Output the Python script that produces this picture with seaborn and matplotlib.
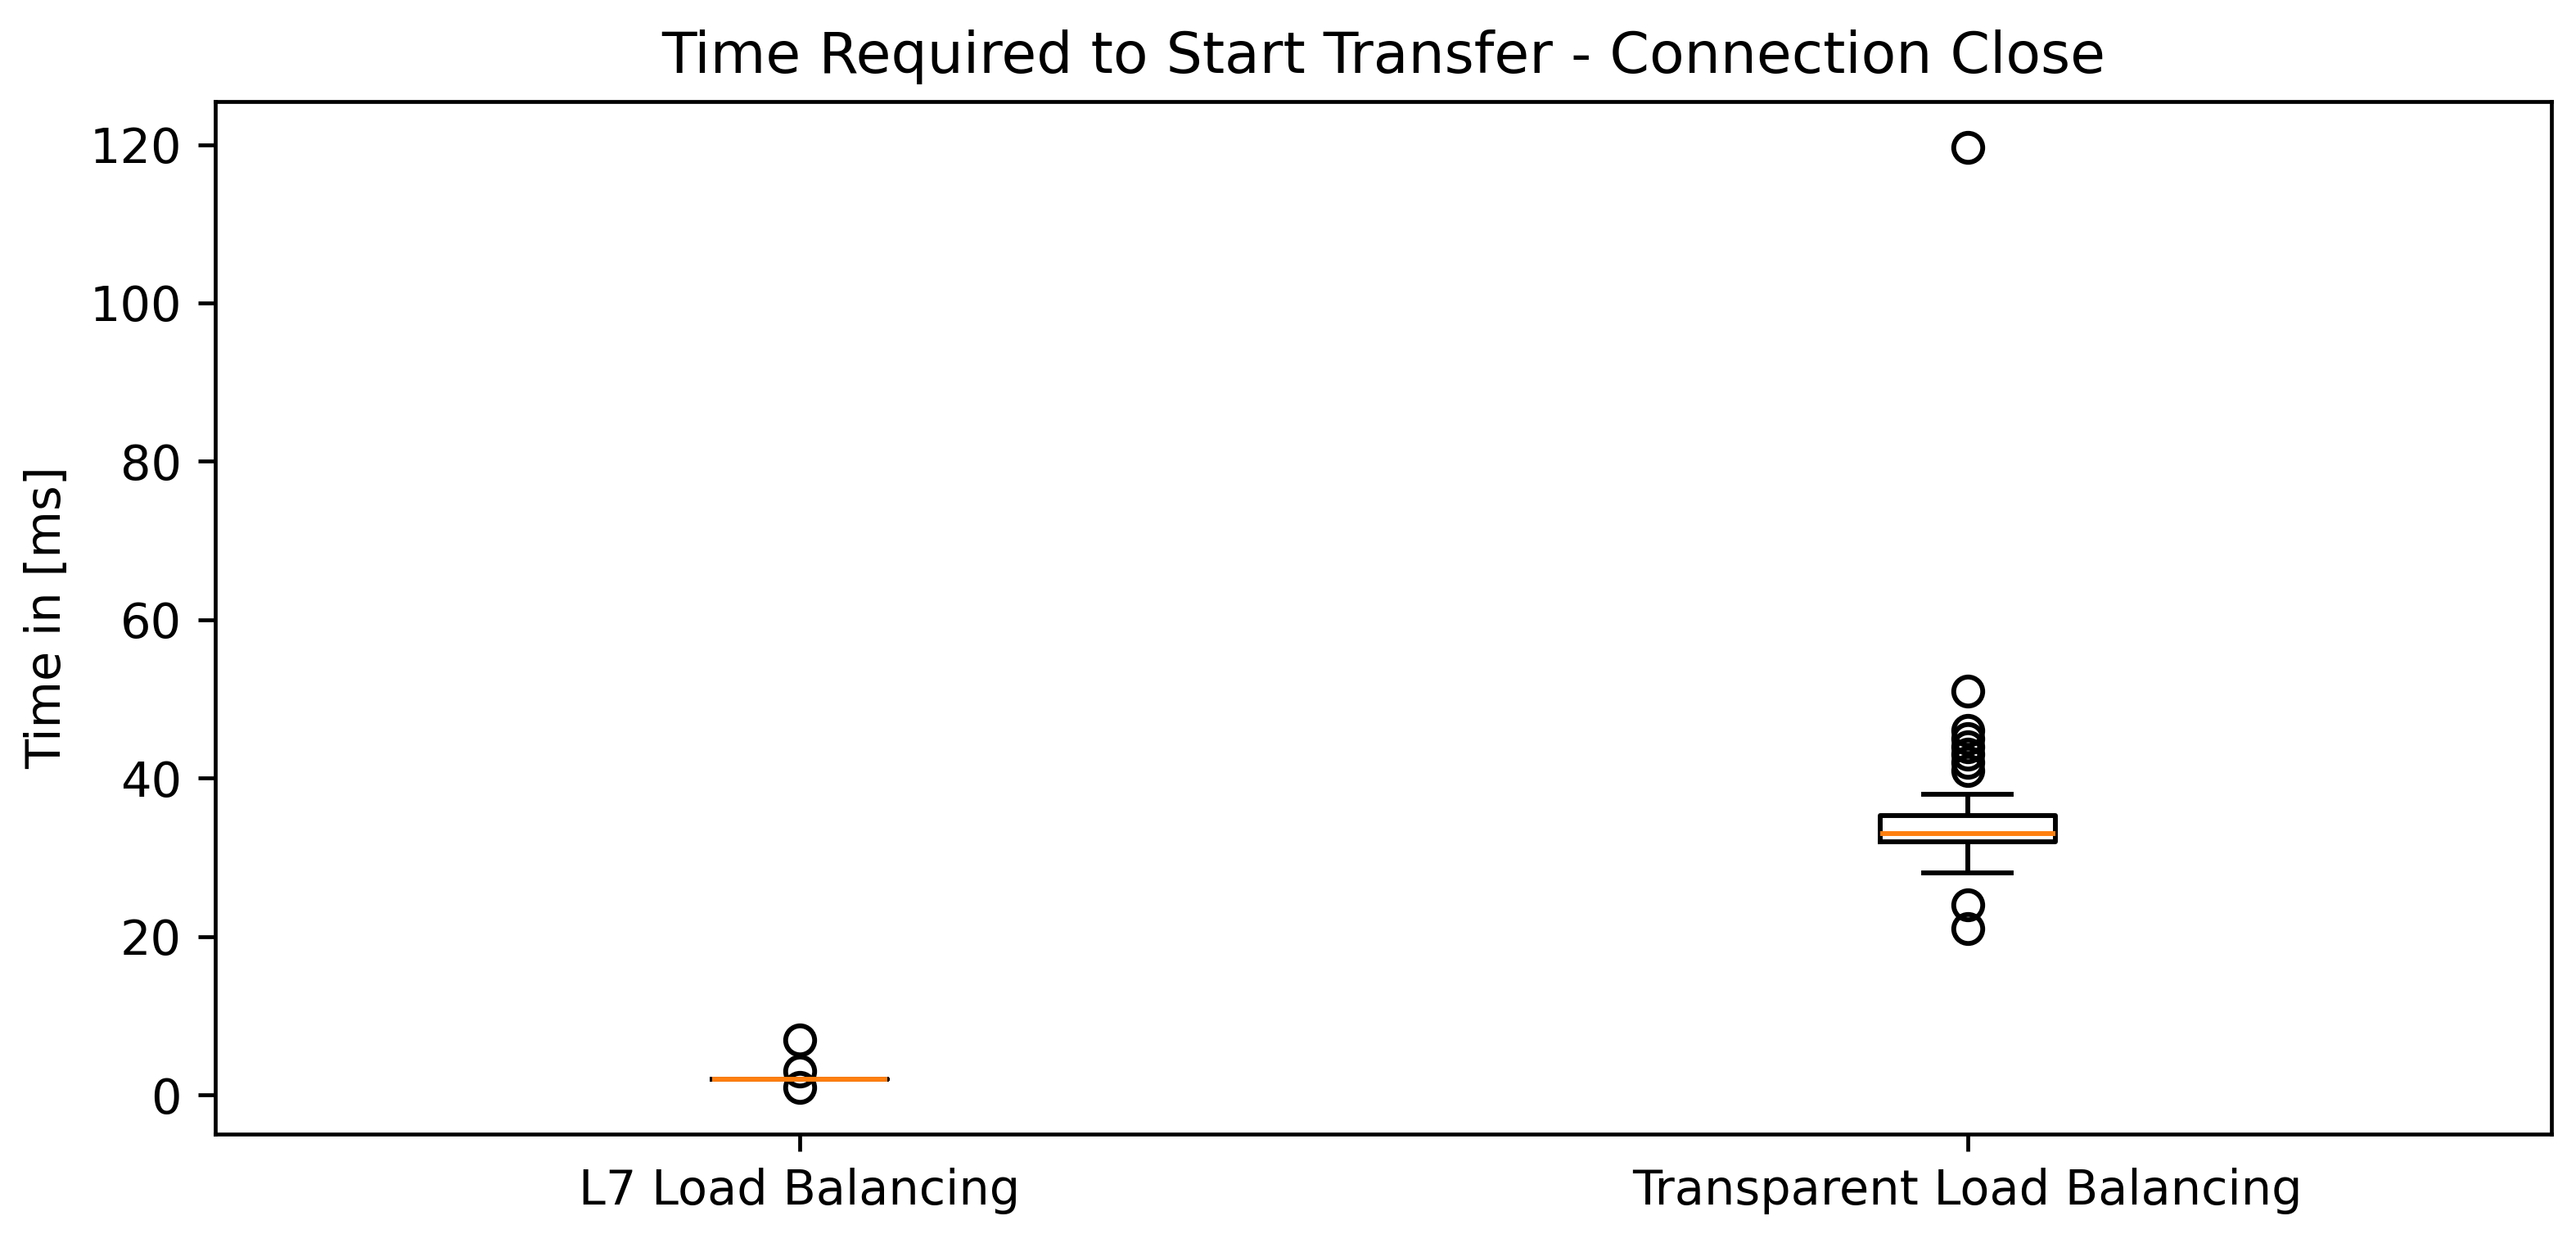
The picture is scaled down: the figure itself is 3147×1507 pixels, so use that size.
import pandas as pd
import seaborn as sns
import matplotlib
matplotlib.use('Agg')
import matplotlib.pyplot as plt

# =============================================================================
# Data
# =============================================================================

categories = ['L7 Load Balancing', 'Transparent Load Balancing']

time_l7 = [
    1, 2, 2, 2, 2, 2, 2, 2, 2, 2, 2, 2, 2, 2, 2, 2, 2, 2, 2, 2, 2, 3, 7,
]

time_transparent = [
    21, 24, 28, 29, 30, 31, 31,
    32, 32, 32, 32, 32, 32,
    33, 33, 33, 33, 33, 33, 33, 33, 33, 33,
    34, 34, 34, 34,
    35, 35, 35, 35, 35, 35,
    36, 37, 38,
    41, 42, 43, 44, 45, 46, 51, 119.6,
]

df = pd.DataFrame({
    'method': [categories[0]] * len(time_l7) + [categories[1]] * len(time_transparent),
    'time': time_l7 + time_transparent,
})

# =============================================================================
# Plot
# =============================================================================

plt.rcParams['font.family'] = ['DejaVu Sans']

dpi = 425
fig, ax = plt.subplots(figsize=(3147 / dpi, 1507 / dpi), dpi=dpi)
fig.subplots_adjust(left=0.0836, right=0.9905, top=0.9177, bottom=0.081)

sns.boxplot(
    data=df,
    x='method',
    y='time',
    order=categories,
    width=0.15,
    fill=False,
    color='black',
    linewidth=1,
    fliersize=6,
    whis=1.5,
    medianprops=dict(color='#ff7f0e', linewidth=1),
    flierprops=dict(marker='o', markerfacecolor='none', markeredgecolor='black',
                    markersize=6, markeredgewidth=1),
    ax=ax,
)

ax.set_xlim(-0.5, 1.5)
ax.set_ylim(-4.93, 125.43)
ax.set_yticks([0, 20, 40, 60, 80, 100, 120])
ax.set_xlabel('')
ax.set_ylabel('Time in [ms]')
ax.set_title('Time Required to Start Transfer - Connection Close', fontsize=11.8)

for side in ['top', 'right', 'left', 'bottom']:
    ax.spines[side].set_visible(True)
    ax.spines[side].set_color('black')

fig.savefig('out.png', dpi=dpi)
